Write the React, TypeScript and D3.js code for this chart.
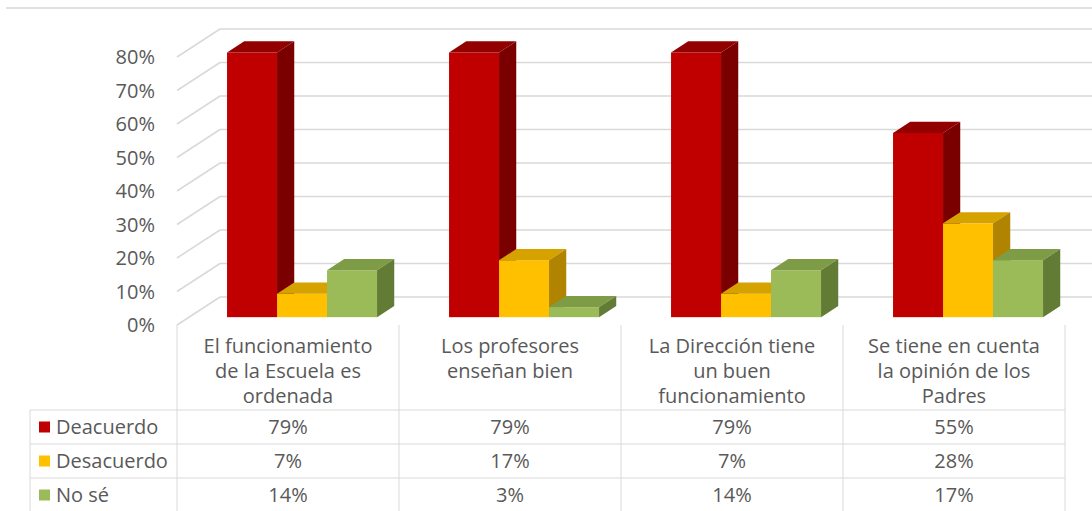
import React from "react";
import * as d3 from "d3";

const categories = [
  "El funcionamiento de la Escuela es ordenada",
  "Los profesores enseñan bien",
  "La Dirección tiene un buen funcionamiento",
  "Se tiene en cuenta la opinión de los Padres",
];
const categoryLines = [
  ["El funcionamiento", "de la Escuela es", "ordenada"],
  ["Los profesores", "enseñan bien"],
  ["La Dirección tiene", "un buen", "funcionamiento"],
  ["Se tiene en cuenta", "la opinión de los", "Padres"],
];
const seriesNames = ["Deacuerdo", "Desacuerdo", "No sé"];
const deacuerdo = [0.79, 0.79, 0.79, 0.55];
const desacuerdo = [0.07, 0.17, 0.07, 0.28];
const noSe = [0.14, 0.03, 0.14, 0.17];
const tickValues = [0, 0.1, 0.2, 0.3, 0.4, 0.5, 0.6, 0.7, 0.8];

const seriesValues = [deacuerdo, desacuerdo, noSe];
const colors = [
  { front: "#C00000", top: "#920000", side: "#7A0000" },
  { front: "#FFC000", top: "#D6A200", side: "#B08400" },
  { front: "#9BBB59", top: "#7E9C46", side: "#627B35" },
];

const W = 1092;
const H = 511;
const DX = 43;
const DY = -28;
const F0 = 0.28;
const F1 = 0.4;
const GRID = "#D9D9D9";
const TEXT = "#595959";
const FONT = "'Open Sans', sans-serif";
const FS = 20;

export default function App() {
  const y = d3.scaleLinear().domain([0, 0.8]).range([325, 57]);
  const x = d3.scaleBand<string>().domain(categories).range([177, 1065]);
  const xi = d3.scaleBand<string>().domain(seriesNames).range([38, 188]);
  const fmt = d3.format(".0%");

  const leftX = x.range()[0];
  const rightX = x.range()[1];
  const rowTop = 410;
  const rowH = 34;

  const bars: React.ReactNode[] = [];
  categories.forEach((c, ci) => {
    seriesNames.forEach((s, si) => {
      const v = seriesValues[si][ci];
      const w = xi.bandwidth();
      const x0 = (x(c) as number) + (xi(s) as number) + DX * F0;
      const yt = y(v) + DY * F0;
      const yb = y(0) + DY * F0;
      const ddx = DX * F1;
      const ddy = DY * F1;
      const col = colors[si];
      bars.push(
        <g key={`${ci}-${si}`}>
          <rect x={x0} y={yt} width={w} height={yb - yt} fill={col.front} />
          <polygon
            points={`${x0},${yt} ${x0 + w},${yt} ${x0 + w + ddx},${yt + ddy} ${x0 + ddx},${yt + ddy}`}
            fill={col.top}
          />
          <polygon
            points={`${x0 + w},${yt} ${x0 + w + ddx},${yt + ddy} ${x0 + w + ddx},${yb + ddy} ${x0 + w},${yb}`}
            fill={col.side}
          />
        </g>
      );
    });
  });

  return (
    <svg
      width={W}
      height={H}
      style={{ position: "absolute", left: 0, top: 0, background: "#fff" }}
      fontFamily={FONT}
    >
      <rect x={0} y={0} width={W} height={H} fill="#fff" />
      <line x1={6} x2={W} y1={8} y2={8} stroke={GRID} strokeWidth={1.5} />

      {tickValues.map((t) => (
        <g key={t}>
          <line x1={leftX + DX} x2={rightX + DX} y1={y(t) + DY} y2={y(t) + DY} stroke={GRID} strokeWidth={1.5} />
          <line x1={leftX} x2={leftX + DX} y1={y(t)} y2={y(t) + DY} stroke={GRID} strokeWidth={1.5} />
          <text x={155} y={y(t) + 7} textAnchor="end" fontSize={FS} fill={TEXT}>
            {fmt(t)}
          </text>
        </g>
      ))}

      {bars}

      {x.domain().concat([""]).map((c, i) => {
        const xx = c ? (x(c) as number) : rightX;
        return <line key={i} x1={xx} x2={xx} y1={y(0)} y2={H} stroke={GRID} strokeWidth={1} />;
      })}
      <line x1={30} x2={30} y1={rowTop} y2={H} stroke={GRID} strokeWidth={1} />
      {[0, 1, 2, 3].map((r) => (
        <line key={r} x1={30} x2={rightX} y1={rowTop + r * rowH} y2={rowTop + r * rowH} stroke={GRID} strokeWidth={1} />
      ))}

      {categories.map((c, ci) => (
        <g key={c}>
          {categoryLines[ci].map((ln, li) => (
            <text
              key={li}
              x={(x(c) as number) + x.bandwidth() / 2}
              y={353 + li * 25}
              textAnchor="middle"
              fontSize={FS}
              fill={TEXT}
            >
              {ln}
            </text>
          ))}
          {seriesNames.map((s, si) => (
            <text
              key={s}
              x={(x(c) as number) + x.bandwidth() / 2}
              y={rowTop + si * rowH + rowH / 2 + 7}
              textAnchor="middle"
              fontSize={FS}
              fill={TEXT}
            >
              {fmt(seriesValues[si][ci])}
            </text>
          ))}
        </g>
      ))}

      {seriesNames.map((s, si) => (
        <g key={s}>
          <rect x={39} y={rowTop + si * rowH + rowH / 2 - 5.5} width={11} height={11} fill={colors[si].front} />
          <text x={56} y={rowTop + si * rowH + rowH / 2 + 7} fontSize={FS} fill={TEXT}>
            {s}
          </text>
        </g>
      ))}
    </svg>
  );
}
